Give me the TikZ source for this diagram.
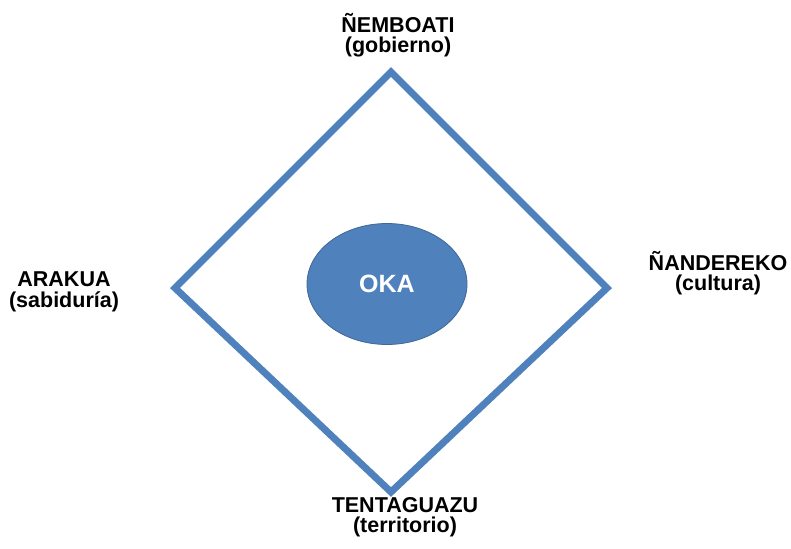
\documentclass[tikz,border=0pt]{standalone}
\usepackage{fontspec}
\setmainfont{Liberation Sans}
\usetikzlibrary{shapes.geometric}
\definecolor{diablue}{RGB}{79,129,189}
\begin{document}
\begin{tikzpicture}[x=1pt,y=-1pt,
  lbl/.style={align=center,inner sep=0pt,font=\bfseries\fontsize{21.5}{20.5}\selectfont,text=black},
  edge/.style={draw=diablue,line width=7pt,line join=miter}]
\useasboundingbox (0,0) rectangle (791,548);
\coordinate (T) at (391,72);
\coordinate (R) at (607,288);
\coordinate (B) at (391,492);
\coordinate (L) at (175,288);
\draw[edge] (T) -- (R) -- (B) -- (L) -- cycle;
\node[ellipse,fill=diablue,draw=diablue!80!black,line width=0.8pt,minimum width=160pt,minimum height=121pt,inner sep=0pt] (oka) at (387,284) {};
\node[font=\bfseries\fontsize{25}{25}\selectfont,text=white] (okalbl) at (oka.center) {OKA};
\node[lbl] (top) at (398,35) {ÑEMBOATI\\(gobierno)};
\node[lbl] (bot) at (405,517) {TENTAGUAZU\\(territorio)};
\node[lbl] (right) at (718,273) {ÑANDEREKO\\(cultura)};
\node[lbl] (left) at (64,292) {ARAKUA\\(sabiduría)};
\end{tikzpicture}
\end{document}
